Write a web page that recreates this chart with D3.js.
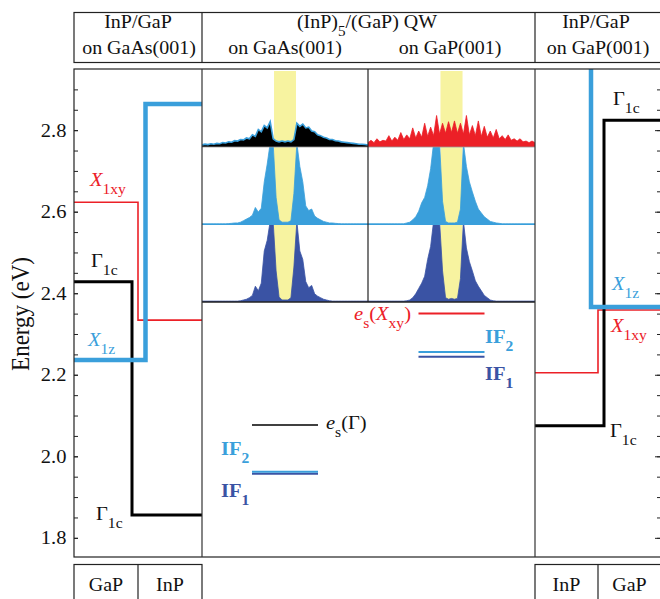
<!DOCTYPE html>
<html>
<head>
<meta charset="utf-8">
<script src="https://cdn.jsdelivr.net/npm/d3@7"></script>
<style>
  body { margin: 0; background: #fff; }
  svg { display: block; }
  text { font-family: "Liberation Serif", "Times New Roman", serif; }
</style>
</head>
<body>
<svg id="chart" width="660" height="599"></svg>
<script>
// ---- data (energies in eV) ----
const yTicksMajor = [1.8, 2.0, 2.2, 2.4, 2.6, 2.8];
const yTicksMinor = [1.8, 1.85, 1.9, 1.95, 2.0, 2.05, 2.1, 2.15, 2.2, 2.25, 2.3, 2.35, 2.4,
  2.45, 2.5, 2.55, 2.6, 2.65, 2.7, 2.75, 2.8, 2.85, 2.9];

const leftMaterials = ["GaP", "InP"];
const rightMaterials = ["InP", "GaP"];

// InP/GaP on GaAs(001): [GaP, InP]
const gammaLeft = [2.428, 1.856];
const x1xyLeft = [2.623, 2.334];
const x1zLeft = [2.236, 2.864];
// InP/GaP on GaP(001): [InP, GaP]
const gammaRight = [2.075, 2.824];
const x1xyRight = [2.205, 2.359];
const x1zRight = [3.1, 2.366];

// (InP)5/(GaP) QW levels: [on GaAs, on GaP]
const qwSubstrates = ["on GaAs(001)", "on GaP(001)"];
const esLevels = [2.077, 2.35];
const if2Levels = [1.962, 2.256];
const if1Levels = [1.957, 2.244];

// probability densities (fraction of row height), sampled across each inset
const densTopGaAs = [0.02, 0.03, 0.025, 0.035, 0.03, 0.04, 0.035, 0.05, 0.045, 0.06, 0.055, 0.075,
  0.07, 0.09, 0.085, 0.11, 0.1, 0.15, 0.13, 0.22, 0.19, 0.27, 0.24, 0.32, 0.1, 0.07, 0.06, 0.07,
  0.06, 0.07, 0.06, 0.09, 0.3, 0.26, 0.29, 0.24, 0.25, 0.2, 0.19, 0.15, 0.14, 0.12, 0.11, 0.09,
  0.09, 0.075, 0.07, 0.06, 0.055, 0.05, 0.045, 0.04, 0.035, 0.03, 0.03, 0.025, 0.02];
const densTopGaP = [0.05, 0.08, 0.05, 0.1, 0.06, 0.08, 0.07, 0.14, 0.07, 0.12, 0.08, 0.18, 0.09,
  0.15, 0.1, 0.24, 0.11, 0.2, 0.12, 0.3, 0.13, 0.25, 0.14, 0.4, 0.16, 0.3, 0.17, 0.32, 0.18, 0.33,
  0.17, 0.3, 0.16, 0.4, 0.15, 0.27, 0.14, 0.33, 0.13, 0.26, 0.12, 0.2, 0.11, 0.22, 0.1, 0.14, 0.09,
  0.15, 0.08, 0.1, 0.07, 0.1, 0.06, 0.07, 0.05, 0.07, 0.05];
const densIF2GaAs = [0.01, 0.01, 0.01, 0.01, 0.01, 0.01, 0.01, 0.01, 0.01, 0.012, 0.015, 0.02, 0.02,
  0.03, 0.05, 0.07, 0.09, 0.12, 0.22, 0.16, 0.21, 0.55, 0.78, 1.05, 1.05, 0.35, 0.06, 0.03, 0.03,
  0.03, 0.05, 0.4, 1.05, 0.75, 0.55, 0.24, 0.18, 0.2, 0.11, 0.08, 0.06, 0.04, 0.03, 0.02, 0.02,
  0.015, 0.012, 0.01, 0.01, 0.01, 0.01, 0.01, 0.01, 0.01, 0.01, 0.01, 0.01];
const densIF2GaP = [0.01, 0.01, 0.01, 0.01, 0.01, 0.01, 0.01, 0.01, 0.01, 0.01, 0.01, 0.01, 0.01,
  0.02, 0.03, 0.06, 0.1, 0.17, 0.28, 0.35, 0.5, 0.72, 1.05, 1.05, 1.05, 0.3, 0.04, 0.02, 0.02,
  0.02, 0.03, 0.2, 1.05, 0.75, 0.55, 0.42, 0.3, 0.2, 0.15, 0.1, 0.07, 0.04, 0.03, 0.02, 0.015,
  0.01, 0.01, 0.01, 0.01, 0.01, 0.01, 0.01, 0.01, 0.01, 0.01, 0.01, 0.01];
const densIF1GaAs = [0.005, 0.005, 0.005, 0.005, 0.005, 0.005, 0.005, 0.005, 0.005, 0.005, 0.005,
  0.005, 0.005, 0.01, 0.02, 0.03, 0.05, 0.08, 0.2, 0.14, 0.24, 0.66, 0.8, 1.05, 1.05, 0.4, 0.06,
  0.02, 0.02, 0.02, 0.05, 0.45, 1.05, 0.66, 0.55, 0.26, 0.18, 0.21, 0.1, 0.07, 0.05, 0.03, 0.02,
  0.01, 0.005, 0.005, 0.005, 0.005, 0.005, 0.005, 0.005, 0.005, 0.005, 0.005, 0.005, 0.005, 0.005];
const densIF1GaP = [0.005, 0.005, 0.005, 0.005, 0.005, 0.005, 0.005, 0.005, 0.005, 0.005, 0.005,
  0.005, 0.005, 0.01, 0.02, 0.05, 0.1, 0.17, 0.24, 0.33, 0.55, 0.72, 1.05, 1.05, 1.05, 0.4, 0.05,
  0.03, 0.04, 0.03, 0.04, 0.3, 1.05, 0.7, 0.52, 0.4, 0.27, 0.2, 0.14, 0.08, 0.05, 0.02, 0.01,
  0.005, 0.005, 0.005, 0.005, 0.005, 0.005, 0.005, 0.005, 0.005, 0.005, 0.005, 0.005, 0.005, 0.005];
// InP well region in sample-index units
const wellIdx = [24.3, 31.7];

// ---- colours ----
const LIGHT = "#3a9fdb", DARK = "#3a53a4", RED = "#ec2027", YELLOW = "#f7f3a0", INK = "#111";
const SX = 1.08; // glyphs in the figure are slightly wide

const svg = d3.select("#chart");

// layout
const pLeft = 74, pRight = 661, pTop = 69, pBottom = 557;
const div1 = 202, div2 = 535, insetMid = 368, insetBottom = 302;
const rows = [[69, 147], [147, 225], [225, 302]];

const y = d3.scaleLinear().domain([1.753, 2.95]).range([pBottom, pTop]);
const xL = d3.scaleBand().domain(leftMaterials).range([pLeft, div1]);
const xR = d3.scaleBand().domain(rightMaterials).range([div2, pRight]);

// text with sub-scripts: parts = [[str, "i"|"s"|""], ...]
function rich(parent, x, yy, parts, o = {}) {
  const size = o.size || 19;
  const g = parent.append("g").attr("transform", `translate(${x},${yy}) scale(${SX},1)`);
  const t = g.append("text")
    .attr("fill", o.color || INK)
    .attr("font-size", size)
    .attr("font-weight", o.bold ? "bold" : null)
    .attr("text-anchor", o.anchor || "start");
  let shift = 0;
  parts.forEach(p => {
    const [str, kind = ""] = Array.isArray(p) ? p : [p];
    const sub = kind.includes("s");
    const target = sub ? size * 0.42 : 0;
    t.append("tspan").text(str)
      .attr("dy", target - shift)
      .attr("font-size", sub ? size * 0.76 : size)
      .attr("font-style", kind.includes("i") ? "italic" : null);
    shift = target;
  });
  return t;
}

const defs = svg.append("defs");
defs.append("clipPath").attr("id", "plotClip").append("rect")
  .attr("x", pLeft).attr("y", pTop).attr("width", pRight - pLeft).attr("height", pBottom - pTop);

// ---- header ----
const head = svg.append("g");
head.append("rect").attr("x", pLeft).attr("y", 12.5).attr("width", pRight - pLeft).attr("height", 50)
  .attr("fill", "none").attr("stroke", "#222").attr("stroke-width", 1.2);
[div1, div2].forEach(x => head.append("line").attr("x1", x).attr("x2", x).attr("y1", 12.5).attr("y2", 62.5)
  .attr("stroke", "#222").attr("stroke-width", 1.2));
const HS = 18.5;
rich(head, 138, 28, ["InP/GaP"], { anchor: "middle", size: HS });
rich(head, 139, 54, ["on GaAs(001)"], { anchor: "middle", size: HS });
rich(head, 367, 28, ["(InP)", ["5", "s"], "/(GaP) QW"], { anchor: "middle", size: HS });
rich(head, 285, 54, [qwSubstrates[0]], { anchor: "middle", size: HS });
rich(head, 450, 54, [qwSubstrates[1]], { anchor: "middle", size: HS });
rich(head, 596, 28, ["InP/GaP"], { anchor: "middle", size: HS });
rich(head, 598, 54, ["on GaP(001)"], { anchor: "middle", size: HS });

// ---- inset densities ----
const inset = svg.append("g");
const insetX = [
  d3.scaleLinear().domain([0, densTopGaAs.length - 1]).range([div1, insetMid]),
  d3.scaleLinear().domain([0, densTopGaP.length - 1]).range([insetMid, div2])
];
insetX.forEach(sx => {
  inset.append("rect")
    .attr("x", sx(wellIdx[0])).attr("y", pTop + 2)
    .attr("width", sx(wellIdx[1]) - sx(wellIdx[0])).attr("height", insetBottom - pTop - 2)
    .attr("fill", YELLOW);
});

const profiles = [
  { data: densTopGaAs, col: 0, row: 0, fill: "#000", stroke: LIGHT },
  { data: densTopGaP, col: 1, row: 0, fill: RED, stroke: RED },
  { data: densIF2GaAs, col: 0, row: 1, fill: LIGHT, stroke: LIGHT },
  { data: densIF2GaP, col: 1, row: 1, fill: LIGHT, stroke: LIGHT },
  { data: densIF1GaAs, col: 0, row: 2, fill: DARK, stroke: DARK },
  { data: densIF1GaP, col: 1, row: 2, fill: DARK, stroke: DARK }
];
profiles.forEach((p, k) => {
  const [r0, r1] = rows[p.row];
  const sx = d3.scaleLinear().domain([0, p.data.length - 1]).range(insetX[p.col].range());
  const sy = d3.scaleLinear().domain([0, 1]).range([r1 - 0.5, r0]);
  const id = "rowClip" + k;
  defs.append("clipPath").attr("id", id).append("rect")
    .attr("x", sx.range()[0]).attr("y", r0).attr("width", sx.range()[1] - sx.range()[0]).attr("height", r1 - r0);
  const g = inset.append("g").attr("clip-path", `url(#${id})`);
  g.append("path").datum(p.data)
    .attr("d", d3.area().x((d, i) => sx(i)).y0(r1).y1(d => sy(d)))
    .attr("fill", p.fill);
  g.append("path").datum(p.data)
    .attr("d", d3.line().x((d, i) => sx(i)).y(d => sy(d)))
    .attr("fill", "none").attr("stroke", p.stroke).attr("stroke-width", p.row === 0 && p.col === 0 ? 1.6 : 0.8);
});
inset.append("line").attr("x1", div1).attr("x2", div2).attr("y1", rows[0][1]).attr("y2", rows[0][1])
  .attr("stroke", "#9a9a9a").attr("stroke-width", 0.8);
inset.append("line").attr("x1", insetMid).attr("x2", insetMid).attr("y1", pTop).attr("y2", insetBottom)
  .attr("stroke", "#222").attr("stroke-width", 1.2);
inset.append("line").attr("x1", div1).attr("x2", div2).attr("y1", insetBottom).attr("y2", insetBottom)
  .attr("stroke", "#222").attr("stroke-width", 1.4);

// ---- band-edge lines ----
const lines = svg.append("g").attr("clip-path", "url(#plotClip)");
const iL = xL("InP"), iR = xR("GaP");
function step(vals, xStart, xStep, xEnd, color, w) {
  lines.append("path")
    .attr("d", `M${xStart},${y(vals[0])}H${xStep}V${y(vals[1])}H${xEnd}`)
    .attr("fill", "none").attr("stroke", color).attr("stroke-width", w);
}
step(x1xyLeft, pLeft, iL, div1, RED, 1.6);
step(gammaLeft, pLeft, iL - 6, div1, "#000", 3);
step(x1zLeft, pLeft, iL + 7.5, div1, LIGHT, 4.5);
step(x1xyRight, div2, iR, pRight, RED, 1.6);
step(gammaRight, div2, iR + 6, pRight, "#000", 3);
step(x1zRight, div2, iR - 7, pRight, LIGHT, 4.5);

// QW levels, centred on each inset column
const qw = svg.append("g");
insetX.forEach((sx, c) => {
  const cx = (sx.range()[0] + sx.range()[1]) / 2;
  qw.append("line").attr("x1", cx - 33).attr("x2", cx + 33)
    .attr("y1", y(esLevels[c])).attr("y2", y(esLevels[c]))
    .attr("stroke", c === 0 ? "#000" : RED).attr("stroke-width", c === 0 ? 1.5 : 2);
  qw.append("line").attr("x1", cx - 33).attr("x2", cx + 33)
    .attr("y1", y(if1Levels[c])).attr("y2", y(if1Levels[c]))
    .attr("stroke", DARK).attr("stroke-width", 2);
  qw.append("line").attr("x1", cx - 33).attr("x2", cx + 33)
    .attr("y1", y(if2Levels[c])).attr("y2", y(if2Levels[c]))
    .attr("stroke", LIGHT).attr("stroke-width", 2);
});

// ---- frame ----
const frame = svg.append("g");
frame.append("rect").attr("x", pLeft).attr("y", pTop).attr("width", pRight - pLeft).attr("height", pBottom - pTop)
  .attr("fill", "none").attr("stroke", "#222").attr("stroke-width", 1.2);
[div1, div2].forEach(x => frame.append("line").attr("x1", x).attr("x2", x).attr("y1", pTop).attr("y2", pBottom)
  .attr("stroke", "#333").attr("stroke-width", 1.2));

// ---- axes ----
const axL = svg.append("g").attr("transform", `translate(${pLeft},0)`)
  .call(d3.axisLeft(y).tickValues(yTicksMajor).tickSizeInner(-4).tickSizeOuter(0)
    .tickPadding(7).tickFormat(d3.format(".1f")));
axL.select(".domain").remove();
axL.selectAll("text").attr("font-size", 19).attr("fill", INK)
  .attr("font-family", '"Liberation Serif", serif').attr("transform", `scale(${SX},1)`);
const axLm = svg.append("g").attr("transform", `translate(${pLeft},0)`)
  .call(d3.axisLeft(y).tickValues(yTicksMinor).tickSizeInner(-4).tickSizeOuter(0).tickFormat(""));
axLm.select(".domain").remove();

const axR = svg.append("g").attr("transform", `translate(${pRight - 1},0)`)
  .call(d3.axisRight(y).tickValues(yTicksMajor).tickSizeInner(-5).tickSizeOuter(0).tickFormat(""));
axR.select(".domain").remove();
const axRm = svg.append("g").attr("transform", `translate(${pRight - 1},0)`)
  .call(d3.axisRight(y).tickValues(yTicksMinor).tickSizeInner(-3).tickSizeOuter(0).tickFormat(""));
axRm.select(".domain").remove();
svg.selectAll(".tick line").attr("stroke", "#222");

svg.append("text")
  .attr("transform", `translate(29,314) rotate(-90) scale(1,${SX})`)
  .attr("text-anchor", "middle").attr("font-size", 23).attr("fill", INK)
  .text("Energy (eV)");

// ---- level labels ----
const lab = svg.append("g");
rich(lab, 90, 186, [["X", "i"], ["1xy", "s"]], { color: RED });
rich(lab, 91, 267, ["Γ", ["1c", "s"]]);
rich(lab, 88, 346, [["X", "i"], ["1z", "s"]], { color: LIGHT });
rich(lab, 96, 520, ["Γ", ["1c", "s"]]);
rich(lab, 613, 105, ["Γ", ["1c", "s"]]);
rich(lab, 612, 290, [["X", "i"], ["1z", "s"]], { color: LIGHT });
rich(lab, 611, 332, [["X", "i"], ["1xy", "s"]], { color: RED });
rich(lab, 610, 437, ["Γ", ["1c", "s"]]);

rich(lab, 326, 429, [["e", "i"], ["s", "s"], "(Γ)"]);
rich(lab, 411, 320, [["e", "i"], ["s", "s"], "(", ["X", "i"], ["xy", "s"], ")"], { color: RED, anchor: "end" });
rich(lab, 221, 455, ["IF", ["2", "s"]], { color: LIGHT, bold: true });
rich(lab, 221, 497, ["IF", ["1", "s"]], { color: DARK, bold: true });
rich(lab, 485, 343, ["IF", ["2", "s"]], { color: LIGHT, bold: true });
rich(lab, 485, 380, ["IF", ["1", "s"]], { color: DARK, bold: true });

// ---- material boxes at the bottom ----
const foot = svg.append("g");
[[xL, leftMaterials], [xR, rightMaterials]].forEach(([sc, mats]) => {
  const [a, b] = sc.range();
  foot.append("rect").attr("x", a).attr("y", 564.5).attr("width", b - a).attr("height", 50)
    .attr("fill", "none").attr("stroke", "#222").attr("stroke-width", 1.2);
  foot.append("line").attr("x1", sc(mats[1])).attr("x2", sc(mats[1])).attr("y1", 564.5).attr("y2", 610)
    .attr("stroke", "#222").attr("stroke-width", 1.2);
  mats.forEach(m => rich(foot, sc(m) + sc.bandwidth() / 2, 591, [m], { anchor: "middle", size: HS }));
});
</script>
</body>
</html>
